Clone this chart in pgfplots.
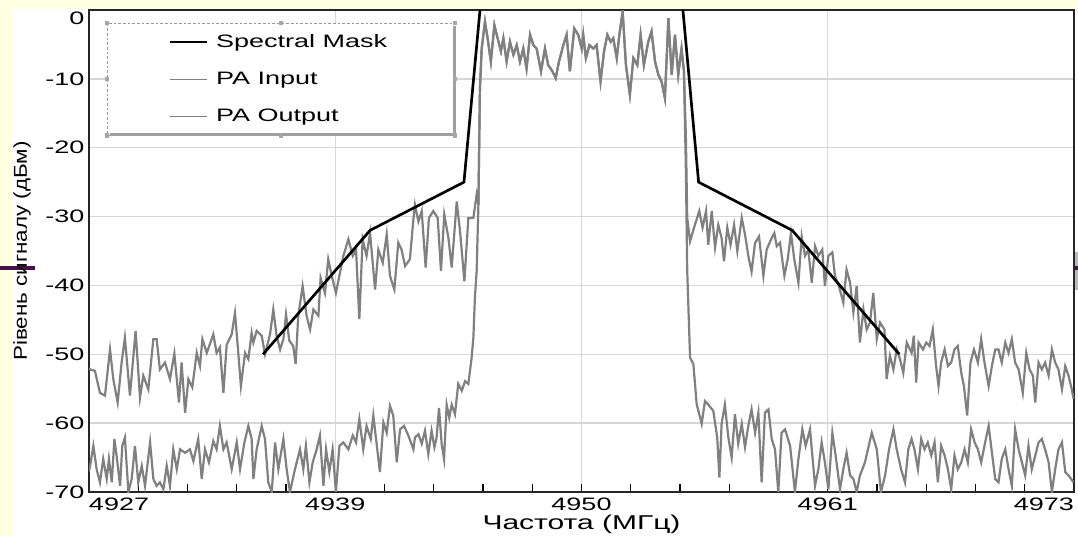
\documentclass[border=0pt]{standalone}
\usepackage{pgfplots}
\pgfplotsset{compat=1.18}
\usepackage{pgfplotstable}
\usepackage{fontspec}
\setmainfont{Liberation Sans}[FakeStretch=1.5]
\newfontfamily\ylabfont{Liberation Sans}[FakeStretch=1.2]
\definecolor{slidebg}{RGB}{255,255,225}
\definecolor{trace}{RGB}{128,128,128}
\definecolor{gridc}{RGB}{215,215,215}
\definecolor{purp}{RGB}{70,15,70}

% PA Output (upper trace)
\pgfplotstableread{
x y
4927.5 -52
4927.55 -52.2
4927.77 -52.4
4928.0 -55.6
4928.23 -56.0
4928.46 -49.3
4928.61 -53.6
4928.81 -57.0
4928.99 -51.2
4929.14 -47.6
4929.37 -56.0
4929.63 -46.6
4929.83 -56.3
4929.98 -53.1
4930.21 -55.1
4930.44 -47.8
4930.59 -47.8
4930.74 -52.2
4930.97 -51.2
4931.2 -53.6
4931.4 -49.9
4931.61 -57.0
4931.73 -51.2
4931.89 -58.5
4932.04 -53.6
4932.22 -54.8
4932.42 -49.8
4932.57 -51.7
4932.68 -47.8
4932.88 -49.8
4933.18 -47.1
4933.33 -49.8
4933.48 -49.0
4933.64 -55.6
4933.79 -48.6
4934.02 -47.1
4934.17 -44.0
4934.32 -49.8
4934.44 -54.6
4934.63 -49.8
4934.78 -50.7
4934.93 -46.9
4935.01 -48.3
4935.16 -46.6
4935.39 -47.3
4935.54 -50.0
4935.77 -47.1
4935.92 -43.5
4936.07 -47.3
4936.23 -49.3
4936.38 -47.8
4936.5 -44.2
4936.65 -48.0
4936.83 -48.8
4936.94 -51.4
4937.06 -44.4
4937.26 -40.1
4937.44 -44.4
4937.6 -46.4
4937.75 -43.5
4937.98 -44.4
4938.08 -38.9
4938.28 -41.1
4938.43 -36.2
4938.59 -38.6
4938.78 -41.1
4938.94 -38.6
4939.12 -35.7
4939.35 -33.3
4939.55 -35.7
4939.7 -34.8
4939.85 -44.9
4940.0 -33.3
4940.18 -35.7
4940.34 -32.4
4940.57 -40.6
4940.72 -34.8
4940.92 -36.7
4941.1 -32.6
4941.25 -38.6
4941.45 -40.6
4941.63 -33.8
4941.78 -34.8
4941.94 -37.2
4942.16 -36.2
4942.32 -30.4
4942.39 -28.3
4942.55 -30.7
4942.70 -29.2
4942.88 -37.4
4943.03 -30.2
4943.23 -29.2
4943.43 -30.2
4943.58 -37.9
4943.73 -29.7
4943.92 -33.1
4944.07 -37.4
4944.3 -27.8
4944.45 -32.1
4944.65 -39.4
4944.83 -30.2
4945.06 -30.2
4945.21 -26.8
4945.29 -28.3
4945.36 -11.4
4945.44 -5.6
4945.59 -1.7
4945.71 -4.1
4945.86 -7.5
4946.02 -2.2
4946.17 -4.1
4946.32 -6.0
4946.43 -4.1
4946.58 -7.5
4946.73 -4.6
4946.89 -6.5
4947.04 -5.1
4947.19 -7.5
4947.34 -5.6
4947.49 -8.5
4947.65 -3.6
4947.8 -5.1
4947.95 -5.6
4948.15 -8.9
4948.33 -5.6
4948.48 -8.0
4948.67 -8.9
4948.82 -9.9
4948.97 -7.5
4949.17 -5.1
4949.32 -3.6
4949.47 -8.9
4949.67 -2.7
4949.85 -3.6
4950.01 -5.6
4950.08 -3.6
4950.20 -7.0
4950.36 -5.1
4950.54 -5.6
4950.69 -5.1
4950.87 -10.4
4951.03 -6.0
4951.18 -3.6
4951.33 -4.6
4951.45 -4.1
4951.61 -7.0
4951.73 -3.6
4951.88 -0.2
4952.03 -8.0
4952.21 -12.3
4952.37 -7.0
4952.55 -8.0
4952.7 -3.6
4952.85 -8.0
4953.05 -4.6
4953.2 -3.1
4953.36 -7.5
4953.51 -9.4
4953.66 -10.4
4953.81 -12.8
4953.97 -1.2
4954.12 -9.4
4954.27 -3.6
4954.42 -9.4
4954.57 -5.6
4954.68 -8.9
4954.77 -18.6
4954.83 -30.2
4954.96 -33.6
4955.18 -31.2
4955.38 -29.2
4955.53 -31.6
4955.69 -29.2
4955.79 -34.1
4955.95 -29.2
4956.1 -34.5
4956.25 -31.2
4956.4 -33.1
4956.51 -36.5
4956.66 -31.6
4956.81 -34.1
4956.97 -31.2
4957.12 -35.0
4957.32 -30.2
4957.47 -32.6
4957.62 -35.7
4957.77 -38.0
4957.93 -33.8
4958.11 -32.9
4958.31 -38.6
4958.46 -34.8
4958.66 -33.3
4958.81 -32.4
4958.92 -34.3
4959.07 -33.8
4959.27 -38.6
4959.42 -36.2
4959.57 -32.4
4959.72 -36.2
4959.91 -39.6
4960.06 -32.9
4960.21 -35.7
4960.36 -34.8
4960.52 -39.6
4960.67 -34.3
4960.82 -35.7
4961.0 -34.8
4961.12 -40.1
4961.28 -35.7
4961.46 -35.2
4961.58 -38.6
4961.76 -40.1
4961.96 -42.5
4962.11 -37.7
4962.27 -39.6
4962.42 -43.9
4962.57 -40.1
4962.72 -48.3
4962.88 -43.5
4963.03 -46.4
4963.18 -45.4
4963.33 -41.1
4963.49 -47.8
4963.64 -45.4
4963.84 -46.4
4963.94 -53.6
4964.09 -50.2
4964.25 -52.2
4964.4 -49.3
4964.55 -50.7
4964.7 -52.7
4964.86 -48.3
4965.08 -49.8
4965.18 -47.3
4965.29 -54.1
4965.4 -48.3
4965.6 -49.3
4965.75 -48.3
4965.9 -48.8
4966.05 -46.4
4966.2 -51.7
4966.31 -54.6
4966.43 -51.2
4966.59 -49.3
4966.74 -51.7
4966.89 -51.2
4967.04 -49.3
4967.19 -48.8
4967.35 -52.7
4967.47 -54.6
4967.62 -58.9
4967.77 -51.2
4967.93 -49.3
4968.11 -51.2
4968.26 -47.8
4968.41 -51.2
4968.6 -54.6
4968.75 -51.7
4968.9 -49.3
4969.05 -49.3
4969.2 -51.2
4969.36 -48.3
4969.51 -49.8
4969.66 -47.8
4969.81 -51.2
4969.97 -52.2
4970.16 -55.6
4970.32 -49.8
4970.47 -52.2
4970.62 -53.1
4970.73 -57.0
4970.88 -51.2
4971.03 -52.2
4971.18 -51.2
4971.34 -53.1
4971.49 -49.3
4971.64 -51.2
4971.79 -52.2
4971.95 -55.1
4972.1 -51.7
4972.25 -53.1
4972.4 -55.1
4972.48 -56.5
}\tabOut

% PA Input (lower trace)
\pgfplotstableread{
x y
4927.5 -67
4927.55 -66.2
4927.70 -63.3
4927.85 -66.7
4928.0 -68.6
4928.15 -65.2
4928.31 -68.1
4928.41 -65.2
4928.54 -68.6
4928.66 -62.3
4928.76 -64.7
4928.92 -69.1
4929.02 -63.3
4929.14 -62.1
4929.30 -70
4929.45 -68.1
4929.60 -63.3
4929.75 -68.6
4929.91 -66.2
4930.06 -69.1
4930.29 -62.8
4930.44 -68.1
4930.59 -69.1
4930.74 -68.6
4930.9 -69.6
4931.05 -66.2
4931.2 -69.1
4931.35 -63.8
4931.51 -66.7
4931.66 -63.8
4931.89 -64.3
4932.11 -63.8
4932.27 -65.5
4932.49 -62.3
4932.65 -68.1
4932.8 -63.8
4932.98 -65.7
4933.18 -62.6
4933.33 -63.8
4933.48 -60.4
4933.64 -63.8
4933.79 -62.8
4934.02 -66.7
4934.25 -62.8
4934.4 -66.7
4934.6 -62.8
4934.78 -60.4
4934.93 -62.3
4935.01 -68.1
4935.16 -63.8
4935.39 -60.4
4935.54 -62.3
4935.69 -68.6
4935.85 -70
4936.0 -62.8
4936.15 -66.7
4936.38 -62.3
4936.53 -66.7
4936.68 -70
4936.91 -66.7
4937.14 -63.8
4937.29 -66.7
4937.41 -63.3
4937.57 -68.6
4937.72 -65.7
4937.9 -63.8
4938.05 -61.8
4938.21 -69.1
4938.33 -63.8
4938.48 -67.1
4938.63 -63.8
4938.78 -70
4938.94 -63.3
4939.12 -62.8
4939.35 -63.8
4939.55 -61.8
4939.7 -62.8
4939.85 -59.4
4940.03 -63.8
4940.18 -60.4
4940.37 -62.3
4940.49 -58.9
4940.67 -63.8
4940.79 -67.1
4940.95 -59.9
4941.1 -61.4
4941.25 -57.5
4941.4 -58.9
4941.56 -65.7
4941.71 -60.9
4941.89 -60.4
4942.09 -61.8
4942.32 -63.8
4942.39 -62.1
4942.55 -61.6
4942.70 -63.0
4942.85 -61.1
4943.0 -64.5
4943.15 -61.1
4943.28 -63.5
4943.38 -62.1
4943.49 -57.8
4943.61 -63.0
4943.72 -65.2
4943.84 -57.3
4943.96 -59.2
4944.07 -57.3
4944.22 -58.7
4944.37 -54.3
4944.53 -55.3
4944.68 -53.9
4944.83 -54.3
4944.98 -50.5
4945.06 -47.6
4945.13 -41.8
4945.21 -37.9
4945.29 -28.3
4945.33 -18.6
4945.36 -11.4
4945.44 -5.6
4945.59 -1.7
4945.71 -4.1
4945.86 -7.5
4946.02 -2.2
4946.17 -4.1
4946.32 -6.0
4946.43 -4.1
4946.58 -7.5
4946.73 -4.6
4946.89 -6.5
4947.04 -5.1
4947.19 -7.5
4947.34 -5.6
4947.49 -8.5
4947.65 -3.6
4947.8 -5.1
4947.95 -5.6
4948.15 -8.9
4948.33 -5.6
4948.48 -8.0
4948.67 -8.9
4948.82 -9.9
4948.97 -7.5
4949.17 -5.1
4949.32 -3.6
4949.47 -8.9
4949.67 -2.7
4949.85 -3.6
4950.01 -5.6
4950.08 -3.6
4950.20 -7.0
4950.36 -5.1
4950.54 -5.6
4950.69 -5.1
4950.87 -10.4
4951.03 -6.0
4951.18 -3.6
4951.33 -4.6
4951.45 -4.1
4951.61 -7.0
4951.73 -3.6
4951.88 -0.2
4952.03 -8.0
4952.21 -12.3
4952.37 -7.0
4952.55 -8.0
4952.7 -3.6
4952.85 -8.0
4953.05 -4.6
4953.2 -3.1
4953.36 -7.5
4953.51 -9.4
4953.66 -10.4
4953.81 -12.8
4953.97 -1.2
4954.12 -9.4
4954.27 -3.6
4954.42 -9.4
4954.57 -5.6
4954.68 -8.9
4954.77 -23.4
4954.83 -37.9
4954.96 -50.5
4955.11 -51.4
4955.26 -57.2
4955.49 -60.1
4955.64 -56.8
4955.79 -57.3
4956.02 -58.2
4956.2 -62.1
4956.3 -67.9
4956.4 -60.1
4956.55 -57.3
4956.71 -62.1
4956.86 -65.0
4957.01 -58.7
4957.16 -63.0
4957.32 -60.1
4957.47 -63.5
4957.62 -60.4
4957.77 -58.0
4957.93 -61.4
4958.08 -58.5
4958.23 -68.6
4958.38 -58.5
4958.54 -58.0
4958.69 -62.3
4958.84 -63.8
4958.99 -70.0
4959.14 -61.4
4959.3 -60.9
4959.53 -63.3
4959.75 -70
4959.91 -65.2
4960.09 -60.9
4960.24 -63.3
4960.44 -60.9
4960.67 -69.1
4960.82 -66.7
4960.97 -62.8
4961.12 -65.7
4961.28 -69.6
4961.46 -61.4
4961.61 -64.7
4961.81 -69.6
4961.96 -66.7
4962.11 -64.3
4962.27 -67.6
4962.42 -68.1
4962.57 -70
4962.72 -67.6
4962.95 -65.7
4963.26 -61.4
4963.49 -63.8
4963.68 -70
4963.87 -67.6
4964.05 -63.8
4964.25 -60.9
4964.4 -63.8
4964.6 -66.7
4964.78 -68.6
4964.93 -63.8
4965.08 -62.3
4965.21 -63.8
4965.37 -66.7
4965.52 -62.3
4965.67 -63.8
4965.82 -62.8
4965.98 -64.7
4966.13 -62.8
4966.28 -68.6
4966.43 -63.3
4966.59 -64.7
4966.74 -66.7
4966.89 -69.6
4967.04 -64.7
4967.19 -66.7
4967.35 -65.7
4967.5 -63.8
4967.65 -65.7
4967.8 -60.9
4967.96 -62.8
4968.11 -63.8
4968.26 -65.7
4968.44 -62.8
4968.6 -60.4
4968.75 -64.3
4968.9 -68.1
4969.05 -68.6
4969.2 -65.2
4969.36 -63.8
4969.51 -66.7
4969.66 -69.1
4969.81 -60.9
4969.97 -63.8
4970.12 -65.7
4970.27 -67.6
4970.42 -63.3
4970.57 -66.7
4970.73 -64.7
4970.88 -62.8
4971.03 -62.3
4971.18 -63.8
4971.34 -65.7
4971.49 -70
4971.64 -66.7
4971.79 -63.8
4971.95 -62.8
4972.1 -67.1
4972.25 -67.6
4972.48 -68.6
}\tabIn

% Spectral mask
\pgfplotstableread{
x y
4935.45 -50
4940.34 -32
4944.63 -25
4945.51 5
4954.49 5
4955.35 -25
4959.63 -32
4964.52 -50
}\tabMask

\begin{document}
\begin{tikzpicture}
\useasboundingbox (-66.75pt,-33pt) rectangle (741.75pt,369pt);
\fill[slidebg] (-66.75pt,-33pt) rectangle (741.75pt,369pt);
\fill[white] (-57.75pt,-33pt) rectangle (741.75pt,362.25pt);
\fill[purp] (-66.75pt,166.3pt) rectangle (-40.5pt,169.7pt);
\fill[gray!55] (738.75pt,151.5pt) rectangle (741.75pt,180pt);
\fill[purp] (738.75pt,166.3pt) rectangle (741.75pt,169.7pt);
\begin{axis}[
  scale only axis,
  width=738.75pt, height=361.5pt,
  xmin=4927.5, xmax=4972.5, ymin=-70, ymax=0,
  xtick={4927.5,4938.75,4950,4961.25,4972.5},
  xticklabels={\makebox[0pt][l]{4927},4939,4950,4961,\makebox[0pt][r]{4973}},
  ytick={-70,-60,-50,-40,-30,-20,-10,0},
  yticklabels={-70,-60,-50,-40,-30,-20,-10,\smash{\raisebox{-10.5pt}{0}}},
  minor x tick num=4,
  xtick pos=bottom, ytick pos=left,
  tick align=inside,
  major tick length=6pt, minor tick length=6pt,
  ytick style={draw=none},
  xtick style={black, line width=0.9pt},
  grid=major,
  major grid style={gridc, line width=1pt},
  axis line style={black!85, line width=1.2pt},
  /pgf/number format/assume math mode=true,
  ticklabel style={font=\fontsize{13.5}{16}\selectfont},
  xticklabel style={yshift=-1pt},
  xlabel={Частота (МГц)},
  xlabel style={font=\fontsize{15}{18}\selectfont, at={(axis description cs:0.5,-0.068)}, anchor=center},
  ylabel={Рівень сигналу (дБм)},
  ylabel style={font=\ylabfont\fontsize{14}{16}\selectfont, at={(axis description cs:-0.068,0.5)}, anchor=center},
  legend cell align=left,
  legend image code/.code={\draw[#1, solid] (0pt,0pt) -- (28pt,0pt); \path (32pt,0pt);},
  legend style={name=leg, at={(axis description cs:0.0183,0.973)}, anchor=north west,
    draw=gray!80, dash pattern=on 2pt off 1.5pt, fill=white,
    font=\fontsize{13.5}{16}\selectfont,
    inner xsep=46pt, inner ysep=6.5pt, row sep=13pt},
]
\addlegendimage{black, line width=1.6pt}
\addlegendentry{\makebox[131pt][l]{Spectral Mask}}
\addlegendimage{trace, line width=0.8pt}
\addlegendentry{PA Input}
\addlegendimage{trace, line width=0.8pt}
\addlegendentry{PA Output}
\addplot[trace, line width=1.65pt, forget plot] table[x=x, y=y] {\tabOut};
\addplot[trace, line width=1.65pt, forget plot] table[x=x, y=y] {\tabIn};
\addplot[black, line width=2pt, forget plot] table[x=x, y=y] {\tabMask};
\end{axis}
\draw[gray!75, line width=2.4pt] ([xshift=2pt,yshift=0.6pt]leg.south west) -- ([xshift=-0.6pt,yshift=0.6pt]leg.south east) -- ([xshift=-0.6pt,yshift=-2pt]leg.north east);
\foreach \a in {north west,north,north east,west,east,south west,south,south east}
  \fill[gray!70] ([shift={(-1.6pt,-1.6pt)}]leg.\a) rectangle ++(3.2pt,3.2pt);
\end{tikzpicture}
\end{document}
